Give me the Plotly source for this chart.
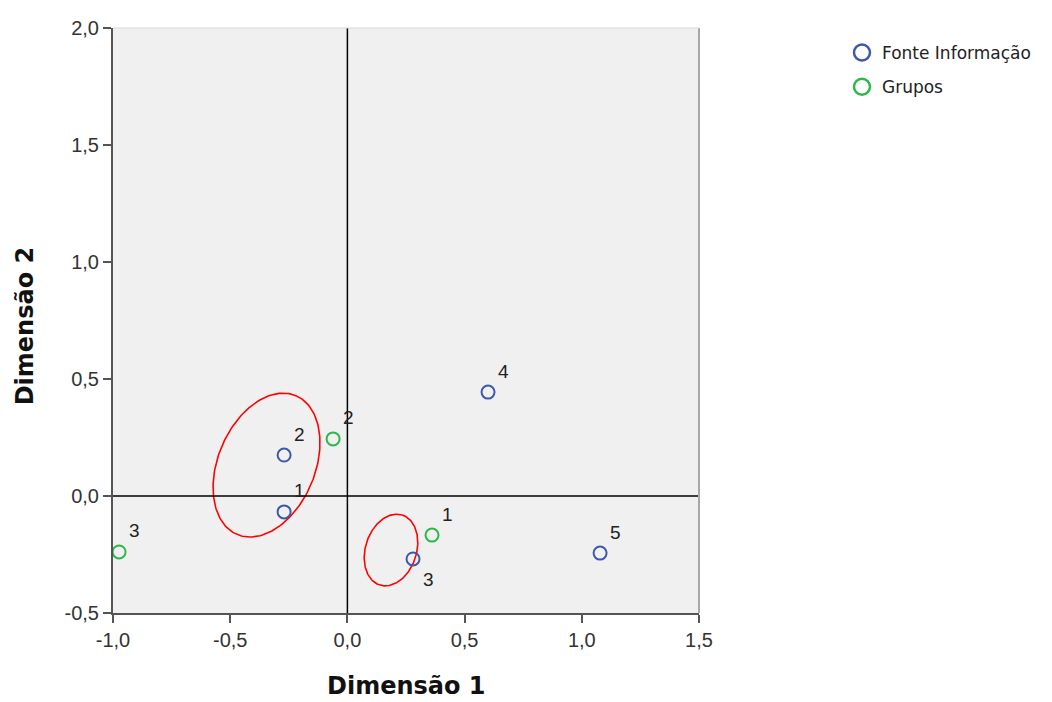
import numpy as np
import plotly.graph_objects as go

# Data
fonte_labels = ["1", "2", "3", "4", "5"]
fonte_x = [-0.270, -0.270, 0.280, 0.600, 1.078]
fonte_y = [-0.068, 0.175, -0.269, 0.444, -0.244]

grupos_labels = ["1", "2", "3"]
grupos_x = [0.361, -0.061, -0.974]
grupos_y = [-0.167, 0.244, -0.239]

# Highlight ellipses: center x, center y, semi-major, semi-minor, angle (deg)
ell_cx = [-0.345, 0.186]
ell_cy = [0.132, -0.231]
ell_a = [0.322, 0.157]
ell_b = [0.207, 0.109]
ell_ang = [67.2, 72.2]

x_ticks = [-1.0, -0.5, 0.0, 0.5, 1.0, 1.5]
x_tick_text = ["-1,0", "-0,5", "0,0", "0,5", "1,0", "1,5"]
y_ticks = [-0.5, 0.0, 0.5, 1.0, 1.5, 2.0]
y_tick_text = ["-0,5", "0,0", "0,5", "1,0", "1,5", "2,0"]

BLUE = "#3E58AC"
GREEN = "#2EB848"
TICKFONT = dict(family="Liberation Sans, Arial, sans-serif", size=20, color="#333")

fig = go.Figure()

# ellipses
t = np.linspace(0, 2 * np.pi, 200)
for cx, cy, a, b, ang in zip(ell_cx, ell_cy, ell_a, ell_b, ell_ang):
    th = np.deg2rad(ang)
    ex = cx + a * np.cos(t) * np.cos(th) - b * np.sin(t) * np.sin(th)
    ey = cy + a * np.cos(t) * np.sin(th) + b * np.sin(t) * np.cos(th)
    fig.add_trace(go.Scatter(x=ex, y=ey, mode="lines", line=dict(color="#FF0000", width=1.6),
                             showlegend=False, hoverinfo="skip"))

fig.add_trace(go.Scatter(x=fonte_x, y=fonte_y, mode="markers", name="Fonte Informação",
                         marker=dict(symbol="circle-open", size=13, color=BLUE, line=dict(width=2, color=BLUE)),
                         showlegend=False))
fig.add_trace(go.Scatter(x=grupos_x, y=grupos_y, mode="markers", name="Grupos",
                         marker=dict(symbol="circle-open", size=13, color=GREEN, line=dict(width=2, color=GREEN)),
                         showlegend=False))
# legend-only traces with bigger symbols
fig.add_trace(go.Scatter(x=[None], y=[None], mode="markers", name="Fonte Informação", legendgroup="a",
                         marker=dict(symbol="circle-open", size=20, color=BLUE, line=dict(width=2.5, color=BLUE))))
fig.add_trace(go.Scatter(x=[None], y=[None], mode="markers", name="Grupos", legendgroup="b",
                         marker=dict(symbol="circle-open", size=20, color=GREEN, line=dict(width=2.5, color=GREEN))))

# point labels
LABELFONT = dict(family="Liberation Sans, Arial, sans-serif", size=19, color="#222")
for lab, x, y in zip(fonte_labels, fonte_x, fonte_y):
    below = (lab == "3")
    fig.add_annotation(x=x, y=y, text=lab, showarrow=False, xshift=15,
                       yshift=-21 if below else 21, font=LABELFONT)
for lab, x, y in zip(grupos_labels, grupos_x, grupos_y):
    fig.add_annotation(x=x, y=y, text=lab, showarrow=False, xshift=15, yshift=21, font=LABELFONT)

# axis titles
TITLEFONT = dict(family="DejaVu Sans, sans-serif", size=24, color="#111")
fig.add_annotation(text="<b>Dimensão 1</b>", x=0.5, y=0, xref="paper", yref="paper",
                   xanchor="center", yanchor="middle", yshift=-73, showarrow=False, font=TITLEFONT,
                   borderpad=0)
fig.add_annotation(text="<b>Dimensão 2</b>", x=0, y=0.49, xref="paper", yref="paper",
                   xanchor="center", yanchor="middle", xshift=-88, textangle=-90, showarrow=False,
                   font=TITLEFONT)

# zero lines
fig.add_shape(type="line", x0=0, x1=0, y0=0, y1=1, xref="x", yref="paper",
              line=dict(color="black", width=1.5), layer="above")
fig.add_shape(type="line", x0=0, x1=1, y0=0, y1=0, xref="paper", yref="y",
              line=dict(color="black", width=1.5), layer="above")
# right / top frame
fig.add_shape(type="line", x0=1, x1=1, y0=0, y1=1, xref="paper", yref="paper",
              line=dict(color="#A8A8A8", width=2))
fig.add_shape(type="line", x0=0, x1=1, y0=1, y1=1, xref="paper", yref="paper",
              line=dict(color="#D8D8D8", width=1))

fig.update_layout(
    width=1052, height=702,
    margin=dict(l=113, r=353, t=28, b=89),
    paper_bgcolor="white", plot_bgcolor="#F0F0F0",
    font=dict(family="Liberation Sans, Arial, sans-serif", color="#222"),
    legend=dict(x=1.244, y=0.988, xanchor="left", yanchor="top",
                font=dict(family="DejaVu Sans, sans-serif", size=17, color="#222"),
                bgcolor="rgba(0,0,0,0)", itemsizing="trace", tracegroupgap=9),
    xaxis=dict(range=[-1.0, 1.5], tickvals=x_ticks, ticktext=x_tick_text, showgrid=False, zeroline=False,
               showline=True, linecolor="#555", linewidth=2, ticks="outside", ticklen=8, tickwidth=2,
               tickcolor="#555", tickfont=TICKFONT),
    yaxis=dict(range=[-0.5, 2.0], tickvals=y_ticks, ticktext=y_tick_text, showgrid=False, zeroline=False,
               showline=True, linecolor="#555", linewidth=2, ticks="outside", ticklen=8, tickwidth=2,
               tickcolor="#555", tickfont=TICKFONT),
)

fig.write_html("out.html", config={"displayModeBar": False},
               post_script="document.body.style.margin='0';document.body.style.overflow='hidden';")
